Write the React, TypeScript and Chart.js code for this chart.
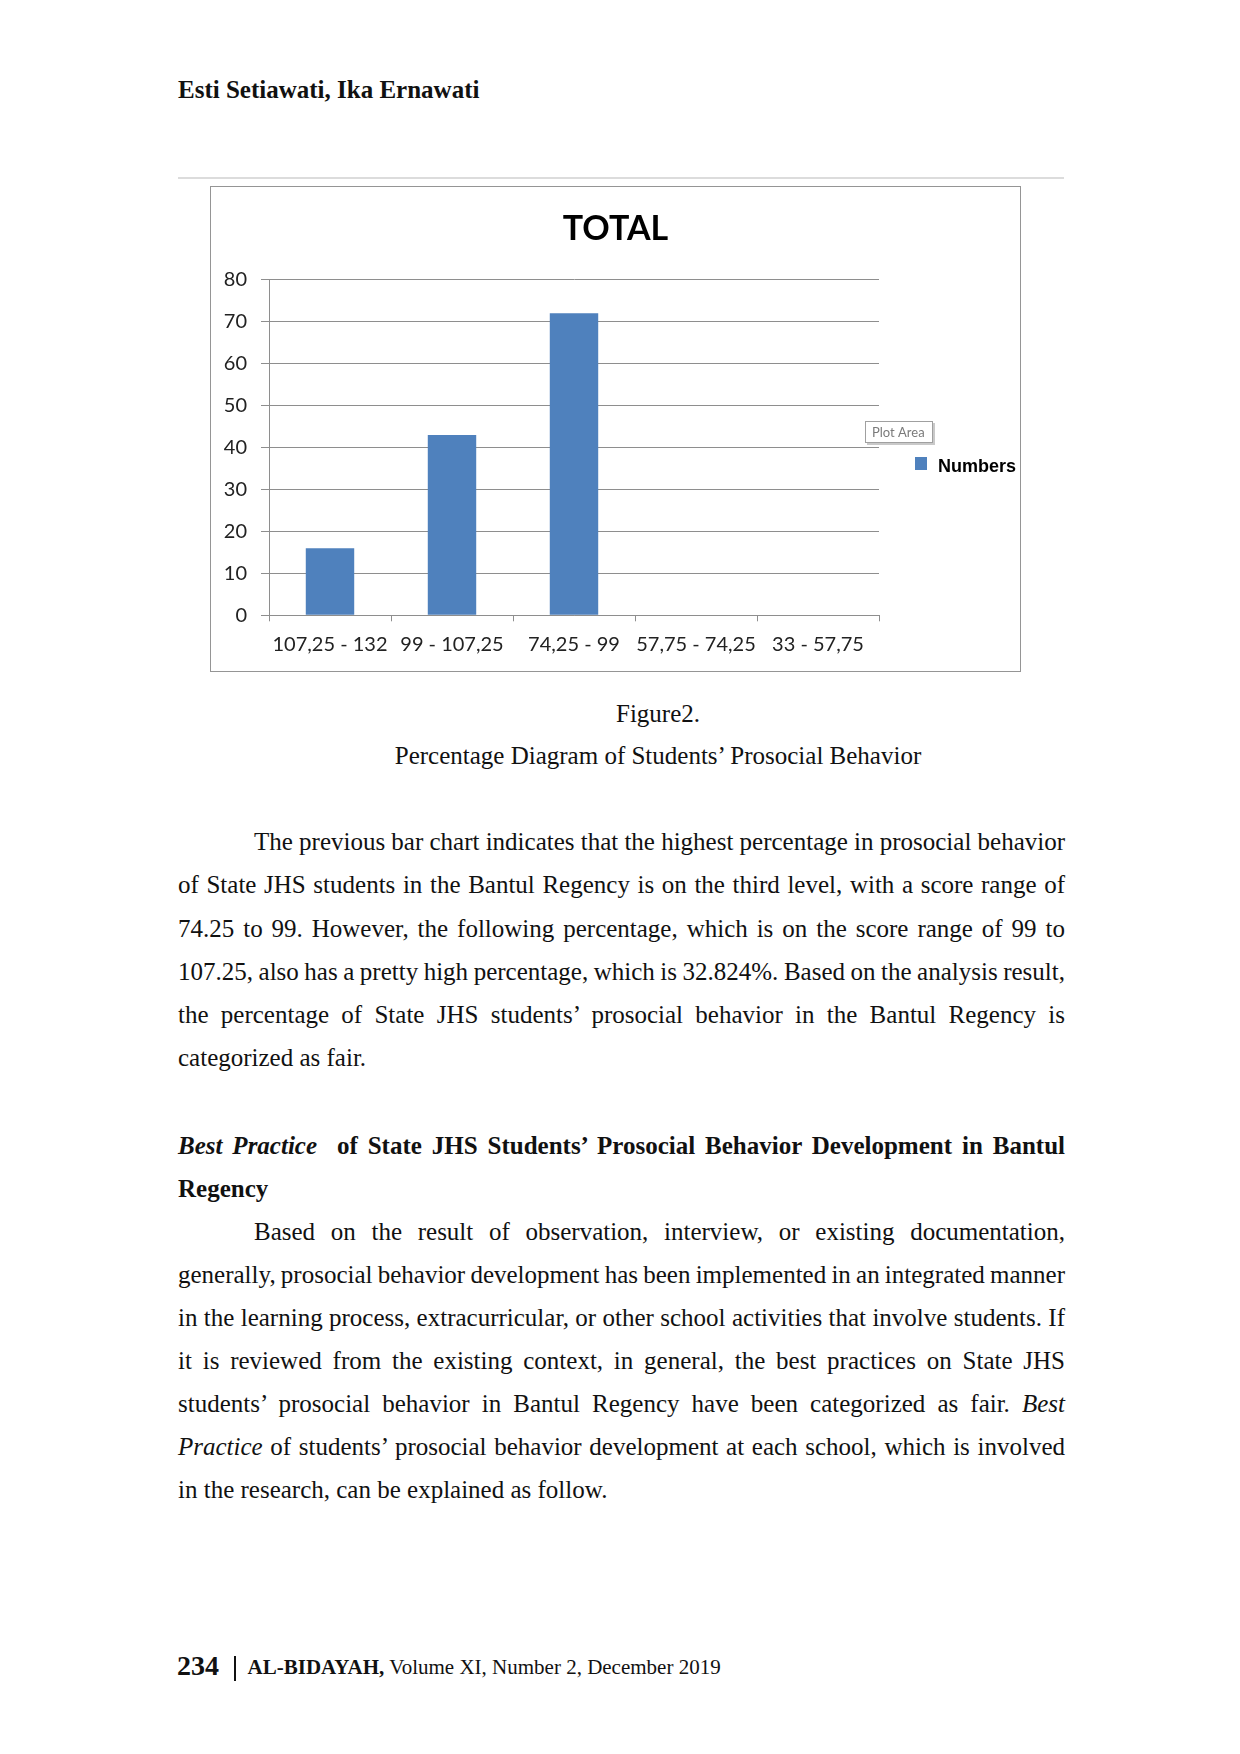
import React, { useEffect, useRef } from "react";
import { Chart, registerables } from "chart.js";

Chart.register(...registerables);

// ---------- data ----------
const categories = ["107,25 - 132", "99 - 107,25", "74,25 - 99", "57,75 - 74,25", "33 - 57,75"];
const numbers = [16, 43, 72, 0, 0];
const seriesName = "Numbers";
const chartTitle = "TOTAL";
const yMin = 0;
const yMax = 80;
const yStep = 10;

const BAR_COLOR = "#4F81BD";
const GRID_COLOR = "#8e8e8e";
const LABEL_FONT = "Lato, 'Open Sans', sans-serif";

const overlayPlugin = {
  id: "overlayLegend",
  afterDraw(chart: any) {
    const ctx = chart.ctx as CanvasRenderingContext2D;
    const r = chart.chartArea.right;
    ctx.save();
    // "Plot Area" callout
    const bx = r - 14;
    const by = 234;
    const bw = 68;
    const bh = 22;
    ctx.fillStyle = "#c9c9c9";
    ctx.fillRect(bx + 2, by + 2, bw, bh);
    ctx.fillStyle = "#ffffff";
    ctx.fillRect(bx, by, bw, bh);
    ctx.strokeStyle = "#a0a0a0";
    ctx.lineWidth = 1;
    ctx.strokeRect(bx + 0.5, by + 0.5, bw - 1, bh - 1);
    ctx.fillStyle = "#7a7a7a";
    ctx.font = "13px " + LABEL_FONT;
    ctx.textBaseline = "middle";
    ctx.textAlign = "left";
    ctx.fillText("Plot Area", bx + 7, by + bh / 2 + 0.5);
    // legend
    ctx.fillStyle = BAR_COLOR;
    ctx.fillRect(r + 36, 270, 12, 13);
    ctx.fillStyle = "#000";
    ctx.font = "bold 18px 'Liberation Sans', Arial, sans-serif";
    ctx.fillText(seriesName, r + 59, 280);
    ctx.restore();
  },
};

function ChartBox() {
  const ref = useRef<HTMLCanvasElement | null>(null);
  useEffect(() => {
    if (!ref.current) return;
    const chart = new Chart(ref.current, {
      type: "bar",
      data: {
        labels: categories,
        datasets: [
          {
            label: seriesName,
            data: numbers,
            backgroundColor: BAR_COLOR,
            borderWidth: 0,
            barPercentage: 0.397,
            categoryPercentage: 1,
            yAxisID: "y",
          },
        ],
      },
      options: {
        animation: false,
        responsive: true,
        maintainAspectRatio: false,
        events: [],
        layout: { padding: { left: 0, right: 0, top: 0, bottom: 0 } },
        plugins: {
          legend: { display: false },
          tooltip: { enabled: false },
          title: {
            display: true,
            text: chartTitle,
            color: "#000",
            font: { family: LABEL_FONT, size: 34, weight: "bold" },
            padding: { top: 22, bottom: 30 },
          },
        },
        scales: {
          x: {
            grid: {
              drawOnChartArea: false,
              drawTicks: true,
              tickLength: 6,
              color: GRID_COLOR,
              offset: true,
            },
            border: { display: true, color: GRID_COLOR },
            ticks: {
              padding: 11,
              color: "#222",
              font: { family: LABEL_FONT, size: 20 },
              maxRotation: 0,
              autoSkip: false,
            },
            afterFit: (s: any) => {
              s.height = 55.7;
            },
          },
          y: {
            position: "left",
            min: yMin,
            max: yMax,
            grid: { color: GRID_COLOR, tickLength: 8 },
            border: { display: true, color: GRID_COLOR },
            ticks: {
              stepSize: yStep,
              padding: 14,
              color: "#222",
              font: { family: LABEL_FONT, size: 20 },
            },
            afterFit: (s: any) => {
              s.width = 58;
            },
          },
          legendSpace: {
            type: "linear",
            position: "right",
            display: true,
            grid: { display: false, drawTicks: false },
            border: { display: false },
            ticks: { display: false },
            afterFit: (s: any) => {
              s.width = 141;
            },
          },
        },
      },
      plugins: [overlayPlugin],
    } as any);
    return () => chart.destroy();
  }, []);
  return (
    <div
      style={{
        position: "absolute",
        left: 210,
        top: 186,
        width: 809,
        height: 484,
        border: "1px solid #959595",
        background: "#fff",
      }}
    >
      <div style={{ position: "relative", width: 809, height: 484 }}>
        <canvas ref={ref} />
      </div>
    </div>
  );
}

const LH = 42.8;
const LEFT = 178;
const RIGHT = 1065;

function Line(props: {
  c: number;
  left?: number;
  justify?: boolean;
  bold?: boolean;
  children: any;
}) {
  const left = props.left ?? LEFT;
  const j = props.justify !== false;
  return (
    <div
      style={{
        position: "absolute",
        top: props.c - LH / 2,
        left,
        width: RIGHT - left,
        height: LH,
        lineHeight: LH + "px",
        fontSize: 25,
        fontWeight: props.bold ? "bold" : "normal",
        textAlign: j ? "justify" : "left",
        textAlignLast: j ? "justify" : "left",
        wordSpacing: j ? "-5px" : "0px",
        color: "#111",
      } as any}
    >
      {props.children}
    </div>
  );
}

export default function App() {
  return (
    <div
      style={{
        position: "absolute",
        left: 0,
        top: 0,
        width: 1240,
        height: 1754,
        background: "#fff",
        fontFamily: "'Liberation Serif', 'Times New Roman', serif",
        color: "#111",
        overflow: "hidden",
      }}
    >
      <div
        style={{
          position: "absolute",
          left: 178,
          top: 75,
          lineHeight: "30px",
          fontSize: 25,
          fontWeight: "bold",
        }}
      >
        Esti Setiawati, Ika Ernawati
      </div>
      <div
        style={{
          position: "absolute",
          left: 178,
          top: 177,
          width: 886,
          height: 2,
          background: "#dcdcdc",
        }}
      />
      <ChartBox />

      <div
        style={{
          position: "absolute",
          left: 258,
          top: 714 - LH / 2,
          width: 800,
          lineHeight: LH + "px",
          fontSize: 25,
          textAlign: "center",
        }}
      >
        Figure2.
      </div>
      <div
        style={{
          position: "absolute",
          left: 258,
          top: 756.7 - LH / 2,
          width: 800,
          lineHeight: LH + "px",
          fontSize: 25,
          textAlign: "center",
        }}
      >
        Percentage Diagram of Students’ Prosocial Behavior
      </div>

      <Line c={842} left={254}>
        The previous bar chart indicates that the highest percentage in prosocial behavior
      </Line>
      <Line c={885.7}>
        of State JHS students in the Bantul Regency is on the third level, with a score range of
      </Line>
      <Line c={929}>
        74.25 to 99. However, the following percentage, which is on the score range of 99 to
      </Line>
      <Line c={972.3}>
        107.25, also has a pretty high percentage, which is 32.824%. Based on the analysis result,
      </Line>
      <Line c={1015.1}>
        the percentage of State JHS students’ prosocial behavior in the Bantul Regency is
      </Line>
      <Line c={1058} justify={false}>
        categorized as fair.
      </Line>

      <Line c={1146} bold>
        <i>Best Practice</i>&nbsp; of State JHS Students’ Prosocial Behavior Development in Bantul
      </Line>
      <Line c={1189} bold justify={false}>
        Regency
      </Line>

      <Line c={1232} left={254}>
        Based on the result of observation, interview, or existing documentation,
      </Line>
      <Line c={1275}>
        generally, prosocial behavior development has been implemented in an integrated manner
      </Line>
      <Line c={1318}>
        in the learning process, extracurricular, or other school activities that involve students. If
      </Line>
      <Line c={1361}>
        it is reviewed from the existing context, in general, the best practices on State JHS
      </Line>
      <Line c={1404}>
        students’ prosocial behavior in Bantul Regency have been categorized as fair. <i>Best</i>
      </Line>
      <Line c={1447}>
        <i>Practice</i> of students’ prosocial behavior development at each school, which is involved
      </Line>
      <Line c={1490} justify={false}>
        in the research, can be explained as follow.
      </Line>

      <div
        style={{
          position: "absolute",
          left: 177,
          top: 1666 - 17,
          lineHeight: "34px",
          fontSize: 28,
          fontWeight: "bold",
        }}
      >
        234
      </div>
      <div
        style={{
          position: "absolute",
          left: 234,
          top: 1656,
          width: 1.5,
          height: 25,
          background: "#111",
        }}
      />
      <div
        style={{
          position: "absolute",
          left: 247.6,
          top: 1667 - 14,
          lineHeight: "28px",
          fontSize: 21,
          whiteSpace: "nowrap",
        }}
      >
        <b>AL-BIDAYAH,</b> Volume XI, Number 2, December 2019
      </div>
    </div>
  );
}
